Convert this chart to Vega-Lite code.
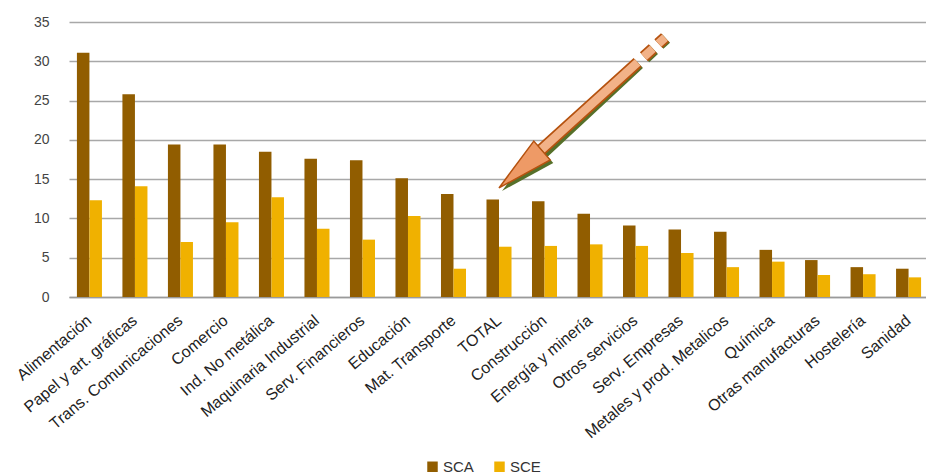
{
  "$schema": "https://vega.github.io/schema/vega-lite/v6.json",
  "width": 860,
  "height": 275,
  "autosize": "none",
  "padding": {"left": 69, "top": 22, "right": 0, "bottom": 178},
  "background": "white",
  "config": {"view": {"stroke": null}, "font": "Liberation Sans"},
  "datasets": {
    "flecha": [
      {"sector": "TOTAL", "valor": 13.88, "sector2": "Metales y prod. Metalicos", "valor2": 40.1}
    ],
    "punta": [
      {"sector": "TOTAL", "valor": 13.88}
    ]
  },
  "data": {
    "values": [
      {"sector": "Alimentación", "serie": "SCA", "valor": 31.1},
      {"sector": "Alimentación", "serie": "SCE", "valor": 12.3},
      {"sector": "Papel y art. gráficas", "serie": "SCA", "valor": 25.8},
      {"sector": "Papel y art. gráficas", "serie": "SCE", "valor": 14.1},
      {"sector": "Trans. Comunicaciones", "serie": "SCA", "valor": 19.4},
      {"sector": "Trans. Comunicaciones", "serie": "SCE", "valor": 7.0},
      {"sector": "Comercio", "serie": "SCA", "valor": 19.4},
      {"sector": "Comercio", "serie": "SCE", "valor": 9.5},
      {"sector": "Ind. No metálica", "serie": "SCA", "valor": 18.5},
      {"sector": "Ind. No metálica", "serie": "SCE", "valor": 12.7},
      {"sector": "Maquinaria Industrial", "serie": "SCA", "valor": 17.6},
      {"sector": "Maquinaria Industrial", "serie": "SCE", "valor": 8.7},
      {"sector": "Serv. Financieros", "serie": "SCA", "valor": 17.4},
      {"sector": "Serv. Financieros", "serie": "SCE", "valor": 7.3},
      {"sector": "Educación", "serie": "SCA", "valor": 15.1},
      {"sector": "Educación", "serie": "SCE", "valor": 10.3},
      {"sector": "Mat. Transporte", "serie": "SCA", "valor": 13.1},
      {"sector": "Mat. Transporte", "serie": "SCE", "valor": 3.6},
      {"sector": "TOTAL", "serie": "SCA", "valor": 12.4},
      {"sector": "TOTAL", "serie": "SCE", "valor": 6.4},
      {"sector": "Construcción", "serie": "SCA", "valor": 12.2},
      {"sector": "Construcción", "serie": "SCE", "valor": 6.5},
      {"sector": "Energía y minería", "serie": "SCA", "valor": 10.6},
      {"sector": "Energía y minería", "serie": "SCE", "valor": 6.7},
      {"sector": "Otros servicios", "serie": "SCA", "valor": 9.1},
      {"sector": "Otros servicios", "serie": "SCE", "valor": 6.5},
      {"sector": "Serv. Empresas", "serie": "SCA", "valor": 8.6},
      {"sector": "Serv. Empresas", "serie": "SCE", "valor": 5.6},
      {"sector": "Metales y prod. Metalicos", "serie": "SCA", "valor": 8.3},
      {"sector": "Metales y prod. Metalicos", "serie": "SCE", "valor": 3.8},
      {"sector": "Química", "serie": "SCA", "valor": 6.0},
      {"sector": "Química", "serie": "SCE", "valor": 4.5},
      {"sector": "Otras manufacturas", "serie": "SCA", "valor": 4.7},
      {"sector": "Otras manufacturas", "serie": "SCE", "valor": 2.8},
      {"sector": "Hostelería", "serie": "SCA", "valor": 3.8},
      {"sector": "Hostelería", "serie": "SCE", "valor": 2.9},
      {"sector": "Sanidad", "serie": "SCA", "valor": 3.6},
      {"sector": "Sanidad", "serie": "SCE", "valor": 2.5}
    ]
  },
  "encoding": {
    "x": {
      "field": "sector",
      "type": "nominal",
      "scale": {
        "domain": ["Alimentación", "Papel y art. gráficas", "Trans. Comunicaciones", "Comercio", "Ind. No metálica", "Maquinaria Industrial", "Serv. Financieros", "Educación", "Mat. Transporte", "TOTAL", "Construcción", "Energía y minería", "Otros servicios", "Serv. Empresas", "Metales y prod. Metalicos", "Química", "Otras manufacturas", "Hostelería", "Sanidad"],
        "paddingInner": 0.45,
        "paddingOuter": 0.174
      },
      "axis": {
        "title": null,
        "labelAngle": -40,
        "labelAlign": "right",
        "labelBaseline": "middle",
        "labelFont": "Liberation Sans",
        "labelFontSize": 16,
        "labelColor": "#222222",
        "labelPadding": 21,
        "labelOverlap": false,
        "labelLimit": 300,
        "ticks": false,
        "domainColor": "#9a9a9a",
        "domainWidth": 1.5,
        "grid": false
      }
    },
    "y": {
      "field": "valor",
      "type": "quantitative",
      "scale": {"domain": [0, 35], "nice": false, "zero": true},
      "axis": {
        "title": null,
        "values": [0, 5, 10, 15, 20, 25, 30, 35],
        "grid": true,
        "gridColor": "#a8a8a8",
        "gridWidth": 1.5,
        "domain": false,
        "ticks": false,
        "labelFont": "Liberation Sans",
        "labelFontSize": 14,
        "labelColor": "#444444",
        "labelPadding": 20
      }
    }
  },
  "layer": [
    {
      "mark": {"type": "bar"},
      "encoding": {
        "xOffset": {"field": "serie", "type": "nominal", "scale": {"paddingInner": 0, "paddingOuter": 0}},
        "color": {
          "field": "serie",
          "type": "nominal",
          "scale": {"domain": ["SCA", "SCE"], "range": ["#915D00", "#F0B100"]},
          "legend": {
            "title": null,
            "orient": "none",
            "direction": "horizontal",
            "legendX": 356,
            "legendY": 437,
            "symbolType": "square",
            "symbolSize": 110,
            "symbolStrokeWidth": 0,
            "labelFont": "Liberation Sans",
            "labelFontSize": 15,
            "labelColor": "#333333",
            "labelOffset": 3,
            "columnPadding": 18
          }
        }
      }
    },
    {
      "data": {"name": "flecha"},
      "mark": {"type": "rule", "color": "#56702a", "strokeWidth": 12, "strokeCap": "butt", "xOffset": 3, "yOffset": 3, "strokeDash": [0, 45, 142, 8.5, 12, 7.5, 9, 200]},
      "encoding": {"x2": {"field": "sector2"}, "y2": {"field": "valor2"}}
    },
    {
      "data": {"name": "flecha"},
      "mark": {"type": "rule", "color": "#b5520f", "strokeWidth": 12, "strokeCap": "butt", "strokeDash": [0, 45, 142, 8.5, 12, 7.5, 9, 200]},
      "encoding": {"x2": {"field": "sector2"}, "y2": {"field": "valor2"}}
    },
    {
      "data": {"name": "flecha"},
      "mark": {"type": "rule", "color": "#f2b288", "strokeWidth": 8.5, "strokeCap": "butt", "strokeDash": [0, 45, 142, 8.5, 12, 7.5, 9, 200]},
      "encoding": {"x2": {"field": "sector2"}, "y2": {"field": "valor2"}}
    },
    {
      "data": {"name": "punta"},
      "mark": {"type": "point", "filled": true, "shape": "M0,0L0.44,2L-0.44,2Z", "size": 3249, "angle": 229, "color": "#56702a", "opacity": 1, "xOffset": 3, "yOffset": 3},
      "encoding": {}
    },
    {
      "data": {"name": "punta"},
      "mark": {"type": "point", "filled": true, "shape": "M0,0L0.44,2L-0.44,2Z", "size": 3249, "angle": 229, "fill": "#ee9a66", "stroke": "#b5520f", "strokeWidth": 1.5, "opacity": 1},
      "encoding": {}
    }
  ]
}
